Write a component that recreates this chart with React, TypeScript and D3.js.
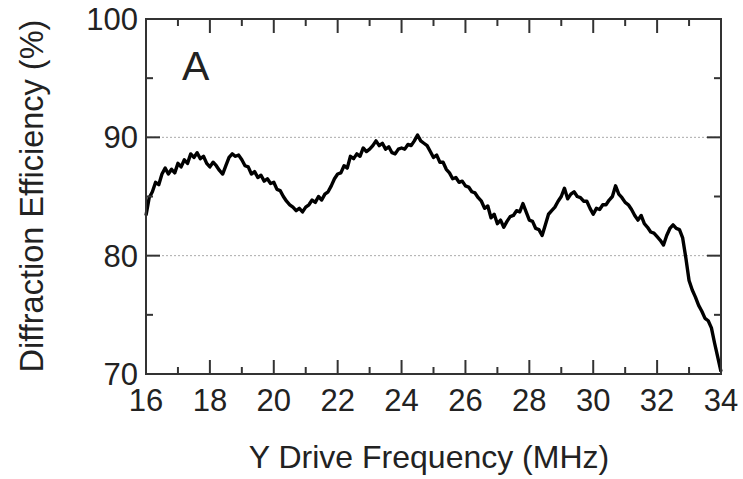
import React from "react";
import * as d3 from "d3";

const frequencyMHz = [
  16.0, 16.1, 16.2, 16.3, 16.4, 16.5, 16.6, 16.7, 16.8, 16.9,
  17.0, 17.1, 17.2, 17.3, 17.4, 17.5, 17.6, 17.7, 17.8, 17.9,
  18.0, 18.1, 18.2, 18.3, 18.4, 18.5, 18.6, 18.7, 18.8, 18.9,
  19.0, 19.1, 19.2, 19.3, 19.4, 19.5, 19.6, 19.7, 19.8, 19.9,
  20.0, 20.1, 20.2, 20.3, 20.4, 20.5, 20.6, 20.7, 20.8, 20.9,
  21.0, 21.1, 21.2, 21.3, 21.4, 21.5, 21.6, 21.7, 21.8, 21.9,
  22.0, 22.1, 22.2, 22.3, 22.4, 22.5, 22.6, 22.7, 22.8, 22.9,
  23.0, 23.1, 23.2, 23.3, 23.4, 23.5, 23.6, 23.7, 23.8, 23.9,
  24.0, 24.1, 24.2, 24.3, 24.4, 24.5, 24.6, 24.7, 24.8, 24.9,
  25.0, 25.1, 25.2, 25.3, 25.4, 25.5, 25.6, 25.7, 25.8, 25.9,
  26.0, 26.1, 26.2, 26.3, 26.4, 26.5, 26.6, 26.7, 26.8, 26.9,
  27.0, 27.1, 27.2, 27.3, 27.4, 27.5, 27.6, 27.7, 27.8, 27.9,
  28.0, 28.1, 28.2, 28.3, 28.4, 28.5, 28.6, 28.7, 28.8, 28.9,
  29.0, 29.1, 29.2, 29.3, 29.4, 29.5, 29.6, 29.7, 29.8, 29.9,
  30.0, 30.1, 30.2, 30.3, 30.4, 30.5, 30.6, 30.7, 30.8, 30.9,
  31.0, 31.1, 31.2, 31.3, 31.4, 31.5, 31.6, 31.7, 31.8, 31.9,
  32.0, 32.1, 32.2, 32.3, 32.4, 32.5, 32.6, 32.7, 32.8, 32.9,
  33.0, 33.1, 33.2, 33.3, 33.4, 33.5, 33.6, 33.7, 33.8, 33.9,
  34.0,
];

const efficiencyPct = [
  83.4, 84.9, 85.4, 86.2, 86.0, 86.9, 87.4, 86.9, 87.3, 87.0,
  87.8, 87.5, 88.1, 87.8, 88.6, 88.3, 88.7, 88.2, 88.4, 87.8,
  87.5, 87.9, 87.6, 87.2, 86.9, 87.6, 88.3, 88.6, 88.4, 88.5,
  88.1, 87.6, 87.5, 86.9, 87.1, 86.6, 86.8, 86.3, 86.5, 86.1,
  86.2, 85.6, 85.5, 85.0, 84.6, 84.3, 84.1, 83.8, 84.0, 83.7,
  84.1, 84.3, 84.7, 84.5, 85.0, 84.7, 85.2, 85.4, 85.9, 86.5,
  86.9, 87.0, 87.6, 87.4, 88.4, 88.2, 88.6, 88.4, 89.1, 88.8,
  89.0, 89.3, 89.7, 89.3, 89.5, 89.0, 89.2, 88.7, 88.6, 89.0,
  89.1, 89.0, 89.4, 89.3, 89.7, 90.2, 89.7, 89.5, 89.3, 88.8,
  88.3, 88.5, 87.9, 87.9, 87.3, 87.0, 86.5, 86.6, 86.2, 86.3,
  85.9, 85.8, 85.4, 85.3, 84.9, 84.6, 84.0, 84.2, 83.2, 83.5,
  82.7, 83.0, 82.4, 82.9, 83.3, 83.4, 83.8, 83.7, 84.4, 83.7,
  83.0, 82.9, 82.3, 82.2, 81.7, 82.6, 83.5, 83.8, 84.1, 84.6,
  85.0, 85.7, 84.8, 85.2, 85.4, 85.0, 84.9, 84.6, 84.6, 84.0,
  83.5, 84.0, 83.9, 84.3, 84.3, 84.7, 85.0, 85.9, 85.2, 84.9,
  84.5, 84.3, 83.9, 83.4, 83.0, 83.4, 82.7, 82.4, 82.0, 81.9,
  81.6, 81.3, 80.9, 81.7, 82.3, 82.6, 82.3, 82.2, 81.5, 79.8,
  77.9, 77.1, 76.5, 75.8, 75.3, 74.7, 74.5, 73.9, 72.6, 71.4,
  70.2,
];

const xMajorTicks = [16, 18, 20, 22, 24, 26, 28, 30, 32, 34];
const xMinorTicks = [17, 19, 21, 23, 25, 27, 29, 31, 33];
const yMajorTicks = [70, 80, 90, 100];
const yMinorTicks = [75, 85, 95];
const gridValues = [80, 90];

const xTitle = "Y Drive Frequency (MHz)";
const yTitle = "Diffraction Efficiency (%)";
const panelLabel = "A";

export default function App() {
  const W = 743;
  const H = 479;
  const left = 146;
  const right = 721;
  const top = 19;
  const bottom = 374;

  const x = d3.scaleLinear().domain([16, 34]).range([left, right]);
  const y = d3.scaleLinear().domain([70, 100]).range([bottom, top]);

  const pts = frequencyMHz.map((f, i) => [f, efficiencyPct[i]] as [number, number]);
  const line = d3
    .line<[number, number]>()
    .x((d) => x(d[0]))
    .y((d) => y(d[1]));

  const axisColor = "#333";
  const textColor = "#222";
  const font = "'Liberation Sans', Arial, Helvetica, sans-serif";
  const majorLen = 14;
  const minorLen = 7;

  return (
    <svg
      width={W}
      height={H}
      style={{ position: "absolute", left: 0, top: 0, background: "#fff" }}
      fontFamily={font}
    >
      <rect x={0} y={0} width={W} height={H} fill="#fff" />
      {gridValues.map((v) => (
        <line
          key={"g" + v}
          x1={left}
          x2={right}
          y1={y(v)}
          y2={y(v)}
          stroke="#aaa"
          strokeWidth={1}
          strokeDasharray="2,2"
        />
      ))}
      <path
        d={line(pts) || ""}
        fill="none"
        stroke="#000"
        strokeWidth={3.4}
        strokeLinejoin="round"
      />
      {xMajorTicks.map((v) => (
        <g key={"xM" + v}>
          <line x1={x(v)} x2={x(v)} y1={bottom} y2={bottom - majorLen} stroke={axisColor} strokeWidth={2} />
          <line x1={x(v)} x2={x(v)} y1={top} y2={top + majorLen} stroke={axisColor} strokeWidth={2} />
          <text x={x(v)} y={411} textAnchor="middle" fontSize={31} fill={textColor}>
            {v}
          </text>
        </g>
      ))}
      {xMinorTicks.map((v) => (
        <g key={"xm" + v}>
          <line x1={x(v)} x2={x(v)} y1={bottom} y2={bottom - minorLen} stroke={axisColor} strokeWidth={2} />
          <line x1={x(v)} x2={x(v)} y1={top} y2={top + minorLen} stroke={axisColor} strokeWidth={2} />
        </g>
      ))}
      {yMajorTicks.map((v) => (
        <g key={"yM" + v}>
          <line x1={left} x2={left + majorLen} y1={y(v)} y2={y(v)} stroke={axisColor} strokeWidth={2} />
          <line x1={right} x2={right - majorLen} y1={y(v)} y2={y(v)} stroke={axisColor} strokeWidth={2} />
          <text x={138} y={y(v)} dy="0.36em" textAnchor="end" fontSize={31} fill={textColor}>
            {v}
          </text>
        </g>
      ))}
      {yMinorTicks.map((v) => (
        <g key={"ym" + v}>
          <line x1={left} x2={left + minorLen} y1={y(v)} y2={y(v)} stroke={axisColor} strokeWidth={2} />
          <line x1={right} x2={right - minorLen} y1={y(v)} y2={y(v)} stroke={axisColor} strokeWidth={2} />
        </g>
      ))}
      <rect
        x={left}
        y={top}
        width={right - left}
        height={bottom - top}
        fill="none"
        stroke={axisColor}
        strokeWidth={2}
      />
      <text x={182} y={80} fontSize={41} fill={textColor}>
        {panelLabel}
      </text>
      <text x={429} y={468} textAnchor="middle" fontSize={32} fill={textColor}>
        {xTitle}
      </text>
      <text
        transform={`translate(43, 196) rotate(-90)`}
        textAnchor="middle"
        fontSize={32.5}
        fill={textColor}
      >
        {yTitle}
      </text>
    </svg>
  );
}
